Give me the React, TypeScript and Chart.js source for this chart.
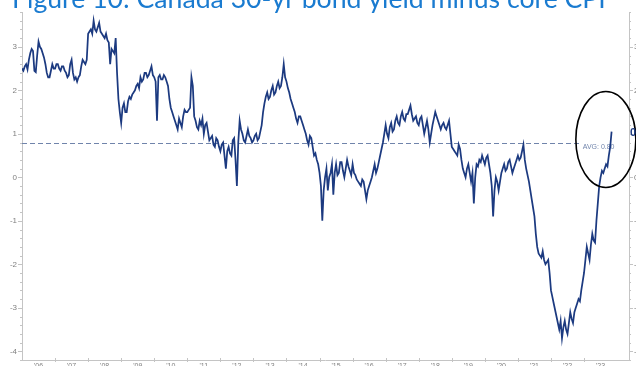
import React, { useEffect, useRef } from "react";
import { Chart, registerables } from "chart.js";

Chart.register(...registerables);

const TITLE = "Figure 10: Canada 30-yr bond yield minus core CPI";
const START_YEAR = 2006;
const X_MAX = 2024.36;
const Y_MIN = -4.2;
const Y_MAX = 3.8;
const yearLabels = ["'06", "'07", "'08", "'09", "'10", "'11", "'12", "'13", "'14", "'15", "'16", "'17", "'18", "'19", "'20", "'21", "'22", "'23"];
const yTickValues = [3, 2, 1, 0, -1, -2, -3, -4];
const AVG_VALUE = 0.8;
const AVG_LABEL = "AVG: 0.80";
const LAST_TAG = "0";
const STEPS_PER_YEAR = 24;

// semi-monthly readings of the spread (percentage points)
const spread2006 = [2.5, 2.45, 2.55, 2.6, 2.48, 2.7, 2.85, 2.95, 2.9, 2.45, 2.42, 2.8, 3.12, 3.0, 2.95, 2.85, 2.75, 2.6, 2.4, 2.3, 2.3, 2.45, 2.6, 2.5];
const spread2007 = [2.5, 2.6, 2.6, 2.5, 2.45, 2.55, 2.55, 2.45, 2.4, 2.3, 2.35, 2.6, 2.7, 2.4, 2.25, 2.3, 2.2, 2.3, 2.35, 2.55, 2.7, 2.65, 2.6, 2.7];
const spread2008 = [3.3, 3.35, 3.4, 3.3, 3.6, 3.4, 3.35, 3.45, 3.55, 3.35, 3.3, 3.25, 3.2, 3.3, 3.15, 3.1, 2.6, 2.95, 2.9, 2.85, 3.2, 2.4, 1.8, 1.5];
const spread2009 = [1.25, 1.6, 1.7, 1.5, 1.5, 1.75, 1.85, 1.8, 1.9, 1.95, 2.0, 2.1, 2.15, 2.05, 2.3, 2.2, 2.25, 2.4, 2.4, 2.3, 2.35, 2.45, 2.55, 2.35];
const spread2010 = [2.3, 2.2, 1.3, 2.3, 2.35, 2.25, 2.25, 2.35, 2.3, 2.2, 2.1, 1.8, 1.6, 1.5, 1.4, 1.3, 1.2, 1.1, 1.35, 1.25, 1.15, 1.4, 1.55, 1.5];
const spread2011 = [1.5, 1.55, 1.6, 2.3, 2.1, 1.4, 1.3, 1.15, 1.1, 1.3, 1.2, 1.35, 1.0, 1.2, 1.25, 1.05, 0.85, 0.9, 0.95, 0.75, 0.7, 0.9, 0.85, 0.7];
const spread2012 = [0.6, 0.75, 0.8, 0.5, 0.2, 0.6, 0.7, 0.55, 0.5, 0.85, 0.9, 0.4, -0.2, 0.8, 1.3, 1.1, 1.0, 0.85, 0.8, 0.95, 1.1, 0.95, 0.9, 0.8];
const spread2013 = [0.85, 0.95, 1.0, 0.85, 0.9, 1.05, 1.2, 1.5, 1.7, 1.85, 1.95, 1.8, 1.85, 2.0, 2.1, 1.9, 1.95, 2.1, 2.2, 2.05, 2.1, 2.3, 2.6, 2.3];
const spread2014 = [2.2, 2.05, 1.95, 1.8, 1.7, 1.6, 1.5, 1.35, 1.25, 1.4, 1.4, 1.3, 1.2, 1.1, 1.0, 0.85, 0.75, 0.95, 0.9, 0.7, 0.5, 0.55, 0.4, 0.3];
const spread2015 = [0.1, -0.2, -1.0, -0.3, 0.0, 0.2, -0.3, 0.0, 0.1, 0.3, -0.4, 0.1, 0.3, 0.05, 0.1, 0.35, 0.35, 0.15, 0.0, 0.2, 0.4, 0.25, 0.15, 0.05];
const spread2016 = [0.3, 0.1, 0.05, -0.05, -0.1, -0.15, -0.2, -0.05, -0.1, -0.3, -0.5, -0.3, -0.2, -0.1, 0.0, 0.15, 0.3, 0.1, 0.2, 0.35, 0.5, 0.65, 0.8, 1.0];
const spread2017 = [1.2, 1.0, 0.9, 1.15, 1.25, 1.05, 1.1, 1.3, 1.4, 1.25, 1.2, 1.4, 1.5, 1.35, 1.3, 1.45, 1.45, 1.55, 1.65, 1.45, 1.3, 1.35, 1.4, 1.25];
const spread2018 = [1.2, 1.35, 1.4, 1.2, 1.0, 1.15, 1.3, 1.1, 0.8, 1.0, 1.2, 1.35, 1.5, 1.4, 1.3, 1.2, 1.1, 1.2, 1.25, 1.15, 1.1, 1.2, 1.3, 1.0];
const spread2019 = [0.7, 0.65, 0.6, 0.55, 0.5, 0.75, 0.65, 0.4, 0.2, 0.1, 0.0, 0.2, 0.3, 0.1, -0.1, 0.1, -0.6, 0.0, 0.3, 0.25, 0.4, 0.35, 0.5, 0.4];
const spread2020 = [0.3, 0.45, 0.5, 0.3, 0.1, -0.2, -0.9, -0.3, 0.0, -0.1, -0.3, -0.1, 0.1, 0.2, 0.3, 0.15, 0.2, 0.35, 0.4, 0.25, 0.1, 0.2, 0.3, 0.4];
const spread2021 = [0.5, 0.4, 0.45, 0.6, 0.75, 0.4, 0.2, 0.05, -0.1, -0.3, -0.5, -0.7, -0.9, -1.3, -1.6, -1.75, -1.8, -1.85, -1.7, -1.9, -2.0, -1.95, -1.9, -2.2];
const spread2022 = [-2.6, -2.75, -2.9, -3.05, -3.2, -3.35, -3.5, -3.3, -3.7, -3.45, -3.3, -3.5, -3.6, -3.35, -3.1, -3.25, -3.35, -3.1, -3.0, -2.9, -2.8, -2.85, -2.6, -2.4];
const spread2023 = [-2.2, -1.9, -1.6, -1.75, -1.9, -1.55, -1.3, -1.45, -1.5, -1.0, -0.6, -0.2, 0.0, 0.15, 0.1, 0.2, 0.3, 0.25, 0.5, 0.7, 1.05];

const spreadValues = [
  ...spread2006, ...spread2007, ...spread2008, ...spread2009, ...spread2010, ...spread2011,
  ...spread2012, ...spread2013, ...spread2014, ...spread2015, ...spread2016, ...spread2017,
  ...spread2018, ...spread2019, ...spread2020, ...spread2021, ...spread2022, ...spread2023,
];

const LINE_COLOR = "#1c3a80";
const AXIS_COLOR = "#c4c4c4";
const LABEL_COLOR = "#808080";
const AVG_COLOR = "#7084ab";
const TITLE_COLOR = "#1a7bd0";

const decorPlugin = {
  id: "decor",
  beforeDatasetsDraw(chart: any) {
    const { ctx, chartArea: a, scales } = chart;
    const xs = scales.x;
    const ys = scales.y;
    ctx.save();
    ctx.strokeStyle = AXIS_COLOR;
    ctx.lineWidth = 1;
    ctx.beginPath();
    ctx.moveTo(Math.round(a.left) + 0.5, a.top);
    ctx.lineTo(Math.round(a.left) + 0.5, a.bottom);
    ctx.moveTo(Math.round(a.right) + 0.5, a.top);
    ctx.lineTo(Math.round(a.right) + 0.5, a.bottom);
    ctx.moveTo(a.left, Math.round(a.bottom) + 0.5);
    ctx.lineTo(a.right, Math.round(a.bottom) + 0.5);
    ctx.stroke();
    ctx.beginPath();
    for (let k = -21; k <= 19; k++) {
      const v = k / 5;
      const py = Math.round(ys.getPixelForValue(v)) + 0.5;
      const major = k % 5 === 0;
      const len = major ? 4 : 2;
      ctx.moveTo(a.left - len, py);
      ctx.lineTo(a.left, py);
      ctx.moveTo(a.right, py);
      ctx.lineTo(a.right + len, py);
    }
    for (let i = 1; i < yearLabels.length; i++) {
      const px = Math.round(xs.getPixelForValue(START_YEAR + i)) + 0.5;
      ctx.moveTo(px, a.bottom - 2);
      ctx.lineTo(px, a.bottom + 2);
    }
    ctx.stroke();
    ctx.fillStyle = LABEL_COLOR;
    ctx.font = "8px 'Liberation Sans', Arial, sans-serif";
    ctx.textAlign = "right";
    ctx.textBaseline = "middle";
    yTickValues.forEach((v) => {
      ctx.fillText(String(v), a.left - 5, ys.getPixelForValue(v));
    });
    ctx.textAlign = "left";
    yTickValues.forEach((v) => {
      ctx.fillText(String(v), a.right + 5, ys.getPixelForValue(v));
    });
    ctx.textAlign = "center";
    ctx.textBaseline = "top";
    ctx.font = "7px 'Liberation Sans', Arial, sans-serif";
    yearLabels.forEach((lab, i) => {
      ctx.fillText(lab, xs.getPixelForValue(START_YEAR + i + 0.5), a.bottom + 3);
    });
    const avgY = Math.round(ys.getPixelForValue(AVG_VALUE)) + 0.5;
    const avgEnd = xs.getPixelForValue(2022.9);
    ctx.strokeStyle = AVG_COLOR;
    ctx.setLineDash([5, 3]);
    ctx.beginPath();
    ctx.moveTo(a.left, avgY);
    ctx.lineTo(avgEnd, avgY);
    ctx.stroke();
    ctx.setLineDash([]);
    ctx.fillStyle = AVG_COLOR;
    ctx.font = "7px 'Liberation Sans', Arial, sans-serif";
    ctx.textAlign = "left";
    ctx.textBaseline = "middle";
    ctx.fillText(AVG_LABEL, avgEnd + 2, avgY + 4);
    ctx.restore();
  },
  afterDraw(chart: any) {
    const { ctx, chartArea: a, scales } = chart;
    const xs = scales.x;
    const ys = scales.y;
    ctx.save();
    const cx = xs.getPixelForValue(2023.66);
    const cy = ys.getPixelForValue(0.87);
    ctx.strokeStyle = "#000000";
    ctx.lineWidth = 1.6;
    ctx.beginPath();
    ctx.ellipse(cx, cy, 30, 48, 0, 0, Math.PI * 2);
    ctx.stroke();
    ctx.fillStyle = LINE_COLOR;
    ctx.font = "bold 11px 'Liberation Sans', Arial, sans-serif";
    ctx.textAlign = "left";
    ctx.textBaseline = "middle";
    ctx.fillText(LAST_TAG, a.right + 1, ys.getPixelForValue(1.02));
    ctx.font = "20px Lato, 'Open Sans', sans-serif";
    const w = ctx.measureText(TITLE).width;
    const size = (20 * 594) / w;
    ctx.font = `${size.toFixed(2)}px Lato, 'Open Sans', sans-serif`;
    ctx.fillStyle = TITLE_COLOR;
    ctx.textAlign = "left";
    ctx.textBaseline = "alphabetic";
    ctx.fillText(TITLE, 12, 8);
    ctx.restore();
  },
};

export default function App() {
  const canvasRef = useRef<HTMLCanvasElement | null>(null);

  useEffect(() => {
    const canvas = canvasRef.current;
    if (!canvas) return;
    const points = spreadValues.map((v, i) => ({ x: START_YEAR + i / STEPS_PER_YEAR, y: v }));
    const chart = new Chart(canvas, {
      type: "line",
      data: {
        datasets: [
          {
            data: points,
            borderColor: LINE_COLOR,
            borderWidth: 1.75,
            pointRadius: 0,
            tension: 0,
            fill: false,
          },
        ],
      },
      options: {
        responsive: false,
        animation: false,
        layout: { padding: { left: 22, right: 7, top: 12, bottom: 6 } },
        scales: {
          x: { type: "linear", min: START_YEAR, max: X_MAX, display: false },
          y: { type: "linear", min: Y_MIN, max: Y_MAX, display: false },
        },
        plugins: { legend: { display: false }, tooltip: { enabled: false }, title: { display: false } },
      },
      plugins: [decorPlugin],
    });
    return () => chart.destroy();
  }, []);

  return (
    <div style={{ position: "fixed", left: 0, top: 0, width: 636, height: 366, overflow: "hidden", background: "#ffffff" }}>
      <canvas ref={canvasRef} width={636} height={366} style={{ display: "block" }} />
    </div>
  );
}
